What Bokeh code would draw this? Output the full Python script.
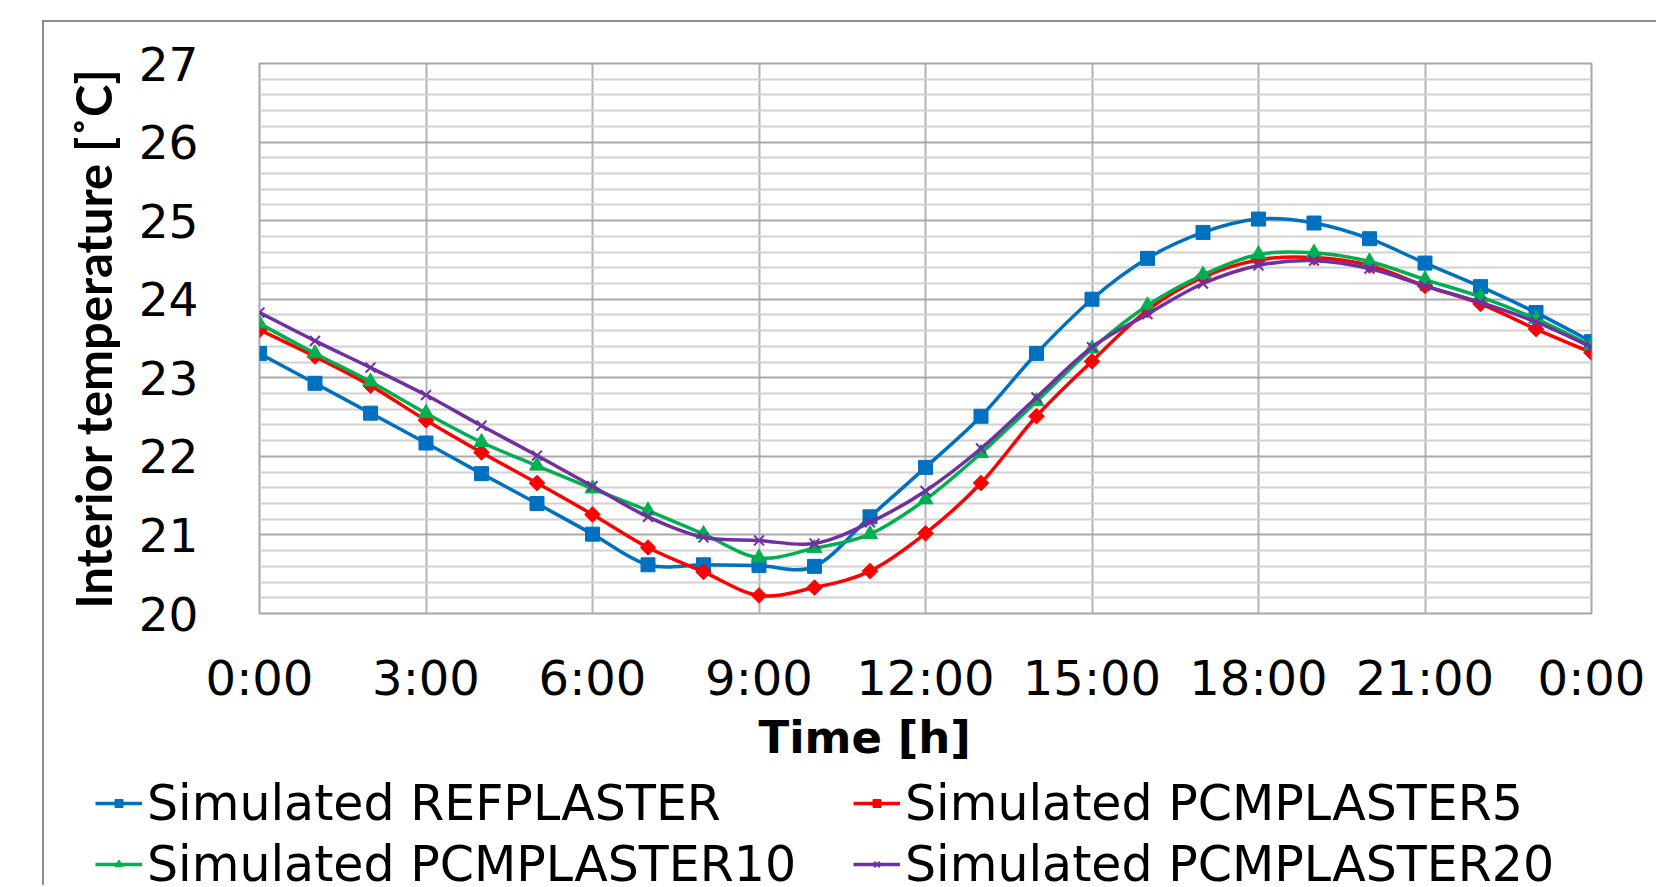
import numpy as np
from bokeh.plotting import figure
from bokeh.models import (FixedTicker, Legend, LegendItem, ColumnDataSource, Title)
from bokeh.embed import file_html
from bokeh.resources import INLINE

# ---------------- data ----------------
hours = list(range(25))
x_tick_values = [0, 3, 6, 9, 12, 15, 18, 21, 24]
x_tick_labels = ["0:00", "3:00", "6:00", "9:00", "12:00", "15:00", "18:00", "21:00", "0:00"]
y_tick_values = [20, 21, 22, 23, 24, 25, 26, 27]

ref_plaster = [23.31, 22.93, 22.55, 22.17, 21.78, 21.40, 21.01, 20.62, 20.62, 20.61,
               20.60, 21.23, 21.86, 22.51, 23.31, 24.00, 24.52, 24.85, 25.02, 24.97,
               24.77, 24.46, 24.16, 23.83, 23.46]
pcm_plaster5 = [23.61, 23.27, 22.90, 22.46, 22.05, 21.66, 21.26, 20.84, 20.53, 20.23,
                20.33, 20.54, 21.02, 21.66, 22.51, 23.21, 23.86, 24.28, 24.50, 24.53,
                24.43, 24.17, 23.94, 23.62, 23.32]
pcm_plaster10 = [23.69, 23.31, 22.95, 22.55, 22.18, 21.88, 21.59, 21.31, 21.01, 20.71,
                 20.83, 21.01, 21.45, 22.04, 22.70, 23.37, 23.92, 24.31, 24.57, 24.59,
                 24.48, 24.25, 24.03, 23.75, 23.41]
pcm_plaster20 = [23.83, 23.47, 23.13, 22.78, 22.39, 22.01, 21.62, 21.23, 20.97, 20.93,
                 20.89, 21.16, 21.56, 22.10, 22.75, 23.39, 23.81, 24.20, 24.43, 24.49,
                 24.39, 24.17, 23.96, 23.71, 23.39]

series_names = ["Simulated REFPLASTER", "Simulated PCMPLASTER5",
                "Simulated PCMPLASTER10", "Simulated PCMPLASTER20"]
series_values = [ref_plaster, pcm_plaster5, pcm_plaster10, pcm_plaster20]

# ---------------- styles ----------------
colors = ["#0070C0", "#FF0000", "#00B050", "#7030A0"]
markers = ["square", "square", "triangle", "x"]
marker_sizes = [14, 11, 15, 14]
marker_angles = [0.0, np.pi / 4, 0.0, 0.0]

W, H1, H2 = 1614, 748, 117
p = figure(width=W, height=H1, output_backend="svg", toolbar_location=None,
           x_range=(0, 24), y_range=(20, 27),
           min_border_left=215, min_border_right=67,
           min_border_top=41, min_border_bottom=157,
           styles={"margin-left": "42px", "margin-top": "20px",
                   "border-left": "2px solid #8c8c8c",
                   "border-top": "2px solid #8c8c8c"})
p.background_fill_color = "white"
p.border_fill_color = "white"
p.outline_line_color = "#a6a6a6"
p.outline_line_width = 2

# axes
p.xaxis.ticker = FixedTicker(ticks=x_tick_values)
p.xaxis.major_label_overrides = {t: l for t, l in zip(x_tick_values, x_tick_labels)}
minor_y = [v for v in np.round(np.arange(20, 27.0001, 0.2), 1) if v not in y_tick_values]
p.yaxis.ticker = FixedTicker(ticks=y_tick_values, minor_ticks=list(minor_y))

for ax in (p.xaxis[0], p.yaxis[0]):
    ax.axis_line_color = None
    ax.major_tick_line_color = None
    ax.minor_tick_line_color = None
    ax.major_tick_out = 0
    ax.major_tick_in = 0
    ax.minor_tick_out = 0
    ax.minor_tick_in = 0
    ax.major_label_text_font = "DejaVu Sans"
    ax.major_label_text_color = "black"
    ax.axis_label_text_color = "black"
    ax.axis_label_text_font_style = "bold"

p.xaxis.major_label_text_font_size = "48px"
p.yaxis.major_label_text_font_size = "47px"
p.xaxis.major_label_standoff = 36

p.yaxis.axis_label = "Interior temperature [˚C]"
p.yaxis.axis_label_text_font = "Lato"
p.yaxis.axis_label_text_font_size = "49px"
p.yaxis.major_label_standoff = 61
p.yaxis.axis_label_standoff = 14

# x-axis title (Excel centres it on the whole chart area, not on the plot)
p.add_layout(Title(text="Time [h]", align="left", offset=499, standoff=0,
                   text_font="DejaVu Sans", text_font_size="45px",
                   text_font_style="bold", text_color="black"), "below")

# grids
p.xgrid.grid_line_color = "#b3b3b3"
p.xgrid.grid_line_width = 2
p.ygrid.grid_line_color = "#a9a9a9"
p.ygrid.grid_line_width = 2
p.ygrid.minor_grid_line_color = "#d2d2d2"
p.ygrid.minor_grid_line_width = 2


def smooth_segments(xs, ys):
    """Bezier segments through the data points (Excel-like smoothed line)."""
    xs = np.asarray(xs, dtype=float)
    ys = np.asarray(ys, dtype=float)
    n = len(xs)
    x0, y0, x1, y1, cx0, cy0, cx1, cy1 = ([] for _ in range(8))
    for i in range(n - 1):
        xa, ya = xs[max(i - 1, 0)], ys[max(i - 1, 0)]
        xb, yb = xs[i], ys[i]
        xc, yc = xs[i + 1], ys[i + 1]
        xd, yd = xs[min(i + 2, n - 1)], ys[min(i + 2, n - 1)]
        x0.append(xb); y0.append(yb); x1.append(xc); y1.append(yc)
        cx0.append(xb + (xc - xa) / 6.0); cy0.append(yb + (yc - ya) / 6.0)
        cx1.append(xc - (xd - xb) / 6.0); cy1.append(yc - (yd - yb) / 6.0)
    return dict(x0=x0, y0=y0, x1=x1, y1=y1, cx0=cx0, cy0=cy0, cx1=cx1, cy1=cy1)


for vals, col, mk, ms, ang in zip(series_values, colors, markers, marker_sizes, marker_angles):
    seg = ColumnDataSource(smooth_segments(hours, vals))
    p.bezier(x0="x0", y0="y0", x1="x1", y1="y1", cx0="cx0", cy0="cy0",
             cx1="cx1", cy1="cy1", source=seg, line_color=col, line_width=3.5)
    p.scatter(hours, vals, marker=mk, size=ms, angle=ang,
              fill_color=col, line_color=col, line_width=2 if mk == "x" else 1)

# ---------------- legend strip (the lower part of the same chart area) ----------------
q = figure(width=W, height=H2, output_backend="svg", toolbar_location=None,
           x_axis_type=None, y_axis_type=None, x_range=(0, 1), y_range=(0, 1),
           min_border=0, min_border_left=0, min_border_right=0,
           min_border_top=0, min_border_bottom=0,
           styles={"margin-left": "42px", "border-left": "2px solid #8c8c8c"})
q.outline_line_color = None
q.background_fill_color = "white"
q.border_fill_color = "white"
q.grid.visible = False

items = []
for name, col, mk, ms, ang in zip(series_names, colors, markers, marker_sizes, marker_angles):
    # legend keys only (a single undefined point, nothing is drawn in the strip)
    r_line = q.line([np.nan], [np.nan], line_color=col, line_width=3.5)
    r_mk = q.scatter([np.nan], [np.nan], marker=mk, size=ms, angle=ang, fill_color=col,
                     line_color=col, line_width=2 if mk == "x" else 1)
    items.append(LegendItem(label=name, renderers=[r_line, r_mk]))


def make_legend(its, loc):
    return Legend(items=its, location=loc, orientation="vertical",
                  label_text_font="DejaVu Sans", label_text_font_size="49px",
                  label_text_color="black", glyph_width=47, glyph_height=20,
                  label_standoff=5, spacing=4, padding=0, margin=0,
                  border_line_color=None, background_fill_alpha=0)


q.add_layout(make_legend([items[0], items[2]], (51, -7.5)))
q.add_layout(make_legend([items[1], items[3]], (809, -7.5)))

open("out.html", "w").write(file_html([p, q], INLINE))
